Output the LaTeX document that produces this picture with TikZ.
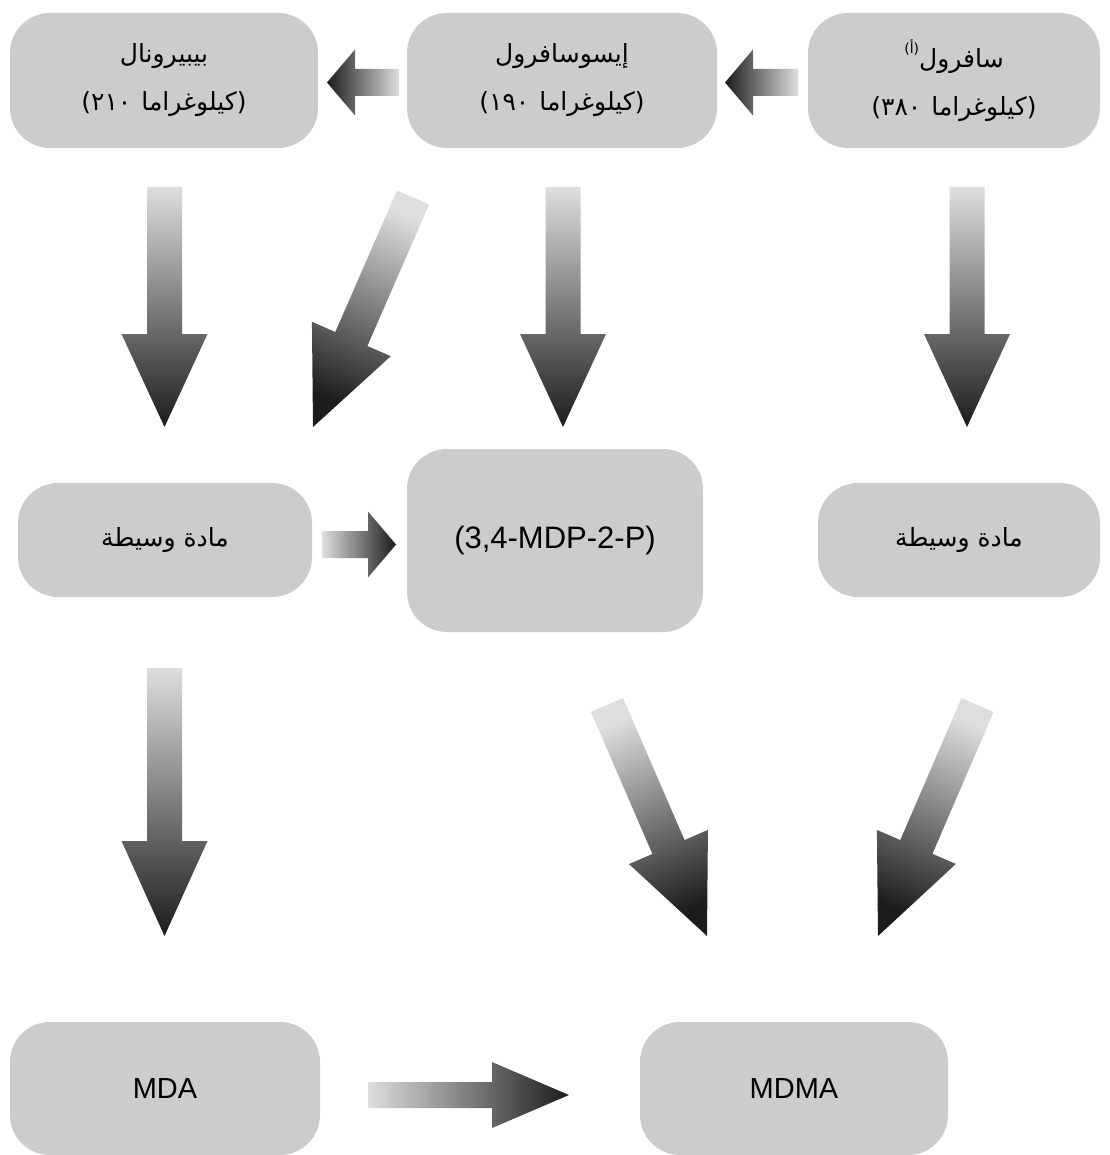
\documentclass[tikz,border=0pt]{standalone}
\usepackage{fontspec}
\TeXXeTstate=1
\newfontfamily\arabicfont[Script=Arabic]{DejaVu Sans}
\newfontfamily\parenfont{DejaVu Sans}
\newfontfamily\latinfont{Liberation Sans}
\usetikzlibrary{calc}
\definecolor{boxgray}{RGB}{204,204,204}
\definecolor{arrlight}{RGB}{222,222,222}
\definecolor{arrdark}{RGB}{28,28,28}
\newcommand\blockarrow[6]{%
  \coordinate (hb) at ($(#2)!#5!(#1)$);
  \shade[#6] ($(#1)!#3!90:(#2)$) -- ($(hb)!#3!90:(#2)$) -- ($(hb)!#4!90:(#2)$) -- (#2)
    -- ($(hb)!#4!-90:(#2)$) -- ($(hb)!#3!-90:(#2)$) -- ($(#1)!#3!-90:(#2)$) -- cycle;
}
% quantity line, laid out in the order in which it is printed
\newcommand\qty[1]{{\parenfont(}#1\hspace{0.4em}كيلوغراما{\parenfont)}}
\tikzset{
  procbox/.style={fill=boxgray, rounded corners=40pt, inner sep=0pt, align=center},
  artext/.style={font=\arabicfont\fontsize{25}{48}\selectfont},
  lattext/.style={font=\latinfont\fontsize{29}{34}\selectfont},
  downshade/.style={top color=arrlight, bottom color=arrdark},
  leftshade/.style={left color=arrdark, right color=arrlight},
  rightshade/.style={left color=arrlight, right color=arrdark},
}
\begin{document}
\begin{tikzpicture}[x=1pt,y=-1pt]
\useasboundingbox[fill=white] (0,0) rectangle (1109,1155);
% boxes
\node[procbox, artext, minimum width=308pt, minimum height=135pt] (b1) at (164,80.5)
  {\beginR بيبيرونال\endR\\\qty{٢١٠}};
\node[procbox, artext, minimum width=310pt, minimum height=135pt] (b2) at (562,80.5)
  {\beginR إيسوسافرول\endR\\\qty{١٩٠}};
\node[procbox, artext, minimum width=292pt, minimum height=135pt] (b3) at (954,80.5)
  {\beginR سافرول\raisebox{0.55em}{\fontsize{14}{14}\selectfont (أ)}\endR\\\qty{٣٨٠}};
\node[procbox, artext, minimum width=294pt, minimum height=114pt] (m1) at (165,540)
  {\beginR مادة وسيطة\endR};
\node[procbox, lattext, font=\latinfont\fontsize{31}{36}\selectfont, minimum width=296pt, minimum height=183pt] (mdp) at (555,540.5)
  {(3,4-MDP-2-P)};
\node[procbox, artext, minimum width=282pt, minimum height=114pt] (m2) at (959,540)
  {\beginR مادة وسيطة\endR};
\node[procbox, lattext, minimum width=310pt, minimum height=133pt] (mda) at (165,1088.5) {MDA};
\node[procbox, lattext, minimum width=308pt, minimum height=133pt] (mdma) at (794,1088.5) {MDMA};
% arrow end points
\coordinate (t1) at (399,82.5);   \coordinate (p1) at (327,82.5);
\coordinate (t2) at (798,82.5);   \coordinate (p2) at (725,82.5);
\coordinate (t3) at (164.5,187);  \coordinate (p3) at (164.5,427);
\coordinate (t4) at (413,197.5);  \coordinate (p4) at (313,427);
\coordinate (t5) at (563,187);    \coordinate (p5) at (563,427);
\coordinate (t6) at (967,187);    \coordinate (p6) at (967,427);
\coordinate (t7) at (322,544.5);  \coordinate (p7) at (396,544.5);
\coordinate (t8) at (164.5,668);  \coordinate (p8) at (164.5,936);
\coordinate (t9) at (607,705);    \coordinate (p9) at (707,936);
\coordinate (t10) at (977.5,705); \coordinate (p10) at (878,936);
\coordinate (t11) at (368,1095);  \coordinate (p11) at (569,1095);
% arrows
\blockarrow{t1}{p1}{13.5pt}{33pt}{28pt}{leftshade}
\blockarrow{t2}{p2}{13.5pt}{33pt}{28pt}{leftshade}
\blockarrow{t3}{p3}{17.5pt}{43pt}{93pt}{downshade}
\blockarrow{t4}{p4}{17.5pt}{43pt}{96pt}{downshade, shading angle=-23.5}
\blockarrow{t5}{p5}{17.5pt}{43pt}{93pt}{downshade}
\blockarrow{t6}{p6}{17.5pt}{43pt}{93pt}{downshade}
\blockarrow{t7}{p7}{13.5pt}{33pt}{28pt}{rightshade}
\blockarrow{t8}{p8}{17.5pt}{43pt}{95pt}{downshade}
\blockarrow{t9}{p9}{17.5pt}{43pt}{97pt}{downshade, shading angle=23.3}
\blockarrow{t10}{p10}{17.5pt}{43pt}{97pt}{downshade, shading angle=-23.3}
\blockarrow{t11}{p11}{13pt}{33pt}{77pt}{rightshade}
\end{tikzpicture}
\end{document}
